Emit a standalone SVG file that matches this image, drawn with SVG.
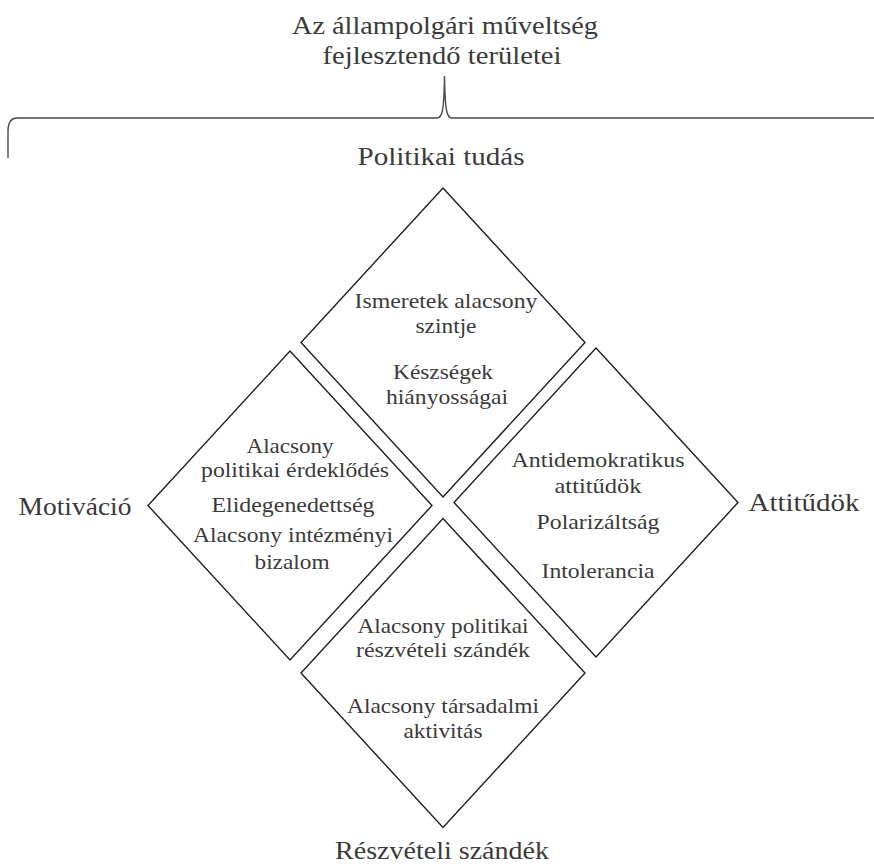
<svg xmlns="http://www.w3.org/2000/svg" width="874" height="866" viewBox="0 0 874 866">
<style>
  .bg { fill: #ffffff; }
  .dia { fill: none; stroke: #1e1e1e; stroke-width: 1.4; stroke-linejoin: miter; }
  .brace { fill: none; stroke: #4a4a4a; stroke-width: 1.4; }
  text { font-family: "Liberation Serif", "Times New Roman", serif; fill: #3a3a3a; text-anchor: middle; }
  .lbl { font-size: 26px; }
  .in { font-size: 22px; }
</style>
<rect class="bg" x="0" y="0" width="874" height="866"/>

<g id="title">
  <text class="lbl" x="445" y="34" textLength="306" lengthAdjust="spacingAndGlyphs">Az állampolgári műveltség</text>
  <text class="lbl" x="442" y="64" textLength="239" lengthAdjust="spacingAndGlyphs">fejlesztendő területei</text>
</g>

<g id="connectors">
  <path class="brace" d="M 8 158 L 8 130 Q 8.5 118 17 118 L 437 118 C 442 118 444 112 444.5 76 C 445 112 447 118 452 118 L 874 118"/>
</g>

<g id="node-politikai-tudas">
  <polygon class="dia" points="443,188 585,342.5 443,497 301,342.5"/>
  <text class="lbl" x="441" y="165" textLength="167" lengthAdjust="spacingAndGlyphs">Politikai tudás</text>
  <text class="in" x="446" y="308" textLength="183" lengthAdjust="spacingAndGlyphs">Ismeretek alacsony</text>
  <text class="in" x="446" y="333" textLength="61" lengthAdjust="spacingAndGlyphs">szintje</text>
  <text class="in" x="443" y="379" textLength="100" lengthAdjust="spacingAndGlyphs">Készségek</text>
  <text class="in" x="447" y="404" textLength="122" lengthAdjust="spacingAndGlyphs">hiányosságai</text>
</g>

<g id="node-motivacio">
  <polygon class="dia" points="290,351 432,505.5 290,660 148,505.5"/>
  <text class="lbl" x="75" y="515" textLength="113" lengthAdjust="spacingAndGlyphs">Motiváció</text>
  <text class="in" x="290" y="453" textLength="87" lengthAdjust="spacingAndGlyphs">Alacsony</text>
  <text class="in" x="295" y="477" textLength="188" lengthAdjust="spacingAndGlyphs">politikai érdeklődés</text>
  <text class="in" x="293" y="512" textLength="163" lengthAdjust="spacingAndGlyphs">Elidegenedettség</text>
  <text class="in" x="293" y="542" textLength="200" lengthAdjust="spacingAndGlyphs">Alacsony intézményi</text>
  <text class="in" x="292" y="569" textLength="75" lengthAdjust="spacingAndGlyphs">bizalom</text>
</g>

<g id="node-attitudok">
  <polygon class="dia" points="596,348 738,502.5 596,657 454,502.5"/>
  <text class="lbl" x="804" y="511" textLength="111" lengthAdjust="spacingAndGlyphs">Attitűdök</text>
  <text class="in" x="598" y="467" textLength="173" lengthAdjust="spacingAndGlyphs">Antidemokratikus</text>
  <text class="in" x="598" y="493" textLength="87" lengthAdjust="spacingAndGlyphs">attitűdök</text>
  <text class="in" x="598" y="529" textLength="123" lengthAdjust="spacingAndGlyphs">Polarizáltság</text>
  <text class="in" x="598" y="578" textLength="113" lengthAdjust="spacingAndGlyphs">Intolerancia</text>
</g>

<g id="node-reszveteli-szandek">
  <polygon class="dia" points="443,518.5 585,673 443,827.5 301,673"/>
  <text class="lbl" x="442" y="859" textLength="214" lengthAdjust="spacingAndGlyphs">Részvételi szándék</text>
  <text class="in" x="443" y="633" textLength="171" lengthAdjust="spacingAndGlyphs">Alacsony politikai</text>
  <text class="in" x="443" y="657" textLength="174" lengthAdjust="spacingAndGlyphs">részvételi szándék</text>
  <text class="in" x="443" y="713" textLength="192" lengthAdjust="spacingAndGlyphs">Alacsony társadalmi</text>
  <text class="in" x="443" y="738" textLength="79" lengthAdjust="spacingAndGlyphs">aktivitás</text>
</g>
</svg>
